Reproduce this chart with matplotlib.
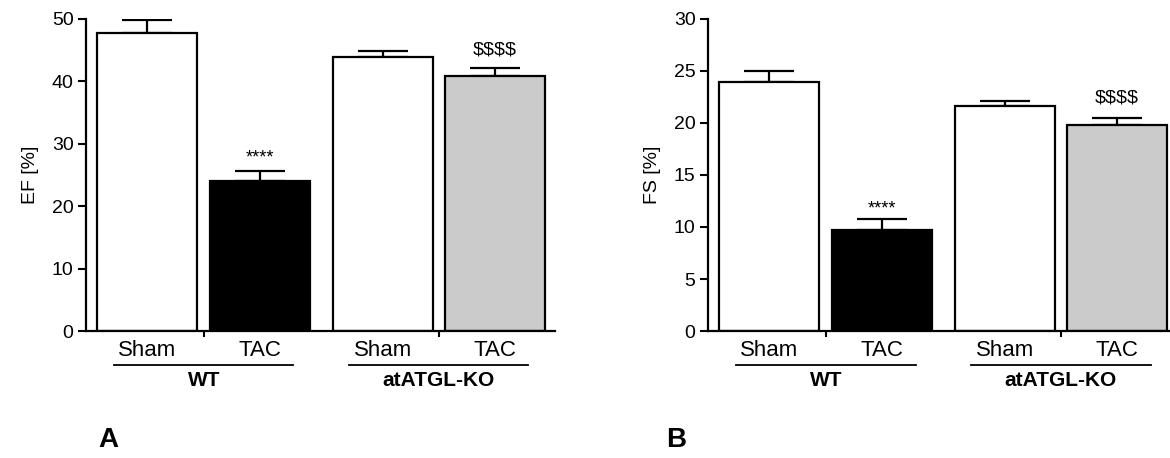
import matplotlib
matplotlib.use("Agg")
import matplotlib.pyplot as plt

plt.rcParams['font.family'] = ['Liberation Sans', 'DejaVu Sans']
plt.rcParams['text.parse_math'] = False

# data
conditions = ['Sham', 'TAC', 'Sham', 'TAC']
genotypes = ['WT', 'atATGL-KO']
ef_mean = [47.8, 24.0, 43.9, 40.8]
ef_sem = [2.0, 1.7, 0.9, 1.3]
fs_mean = [23.9, 9.7, 21.6, 19.8]
fs_sem = [1.1, 1.1, 0.5, 0.7]
signif = ['', '****', '', '$$$$']
fill = ['white', 'black', 'white', '#cbcbcb']

pos = [0.6, 1.71, 2.91, 4.01]
group_mid = [(pos[0] + pos[1]) / 2, (pos[2] + pos[3]) / 2]


def draw_panel(ax, mean, sem, ylabel, yticks, ymax, xmax, star_off, dollar_off):
    ax.bar(pos, mean, width=0.98, color=fill, edgecolor='black', linewidth=1.6, zorder=2)
    ax.errorbar(pos, mean, yerr=[[0] * 4, sem], fmt='none', ecolor='black',
                elinewidth=1.6, capsize=18, capthick=1.6, zorder=1)
    for x, m, s, lab in zip(pos, mean, sem, signif):
        if lab == '****':
            ax.annotate(lab, (x, m + s), xytext=(0, star_off), textcoords='offset points',
                        ha='center', va='center', fontsize=13)
        elif lab:
            ax.annotate(lab, (x, m + s), xytext=(0, dollar_off), textcoords='offset points',
                        ha='center', va='center', fontsize=14)
    ax.set_xlim(0, xmax)
    ax.set_ylim(0, ymax)
    ax.set_yticks(yticks)
    ax.set_ylabel(ylabel, fontsize=14, labelpad=9)
    ax.spines['top'].set_visible(False)
    ax.spines['right'].set_visible(False)
    ax.spines['left'].set_linewidth(1.6)
    ax.spines['bottom'].set_linewidth(1.6)
    ax.tick_params(axis='y', length=6, width=1.5, labelsize=14, pad=3)
    ax.set_xticks(pos)
    ax.set_xticklabels([])
    ax.tick_params(axis='x', which='major', length=0)
    ax.set_xticks(group_mid, minor=True)
    ax.tick_params(axis='x', which='minor', length=4.5, width=1.5)

    tr = ax.get_xaxis_transform()
    for x, c in zip(pos, conditions):
        ax.text(x, -0.061, c, transform=tr, ha='center', va='center', fontsize=16)
    for gm, g in zip(group_mid, genotypes):
        ax.plot([gm - 0.88, gm + 0.88], [-0.109, -0.109], transform=tr,
                color='black', linewidth=1.3, clip_on=False)
        ax.text(gm, -0.16, g, transform=tr, ha='center', va='center',
                fontsize=15, fontweight='bold')


fig = plt.figure(figsize=(11.7, 4.58), dpi=100)
ax1 = fig.add_axes([86 / 1170, 1 - 331 / 458, (555 - 86) / 1170, 312 / 458])
ax2 = fig.add_axes([708 / 1170, 1 - 331 / 458, (1169 - 708) / 1170, 312 / 458])

draw_panel(ax1, ef_mean, ef_sem, 'EF [%]', [0, 10, 20, 30, 40, 50], 50, 4.6, 9, 13)
draw_panel(ax2, fs_mean, fs_sem, 'FS [%]', [0, 5, 10, 15, 20, 25, 30], 30, 4.52, 7, 14)

fig.text(108 / 1170, 1 - 440 / 458, 'A', fontsize=20, fontweight='bold', ha='center', va='center')
fig.text(676 / 1170, 1 - 440 / 458, 'B', fontsize=20, fontweight='bold', ha='center', va='center')

fig.savefig('out.png', dpi=100)
